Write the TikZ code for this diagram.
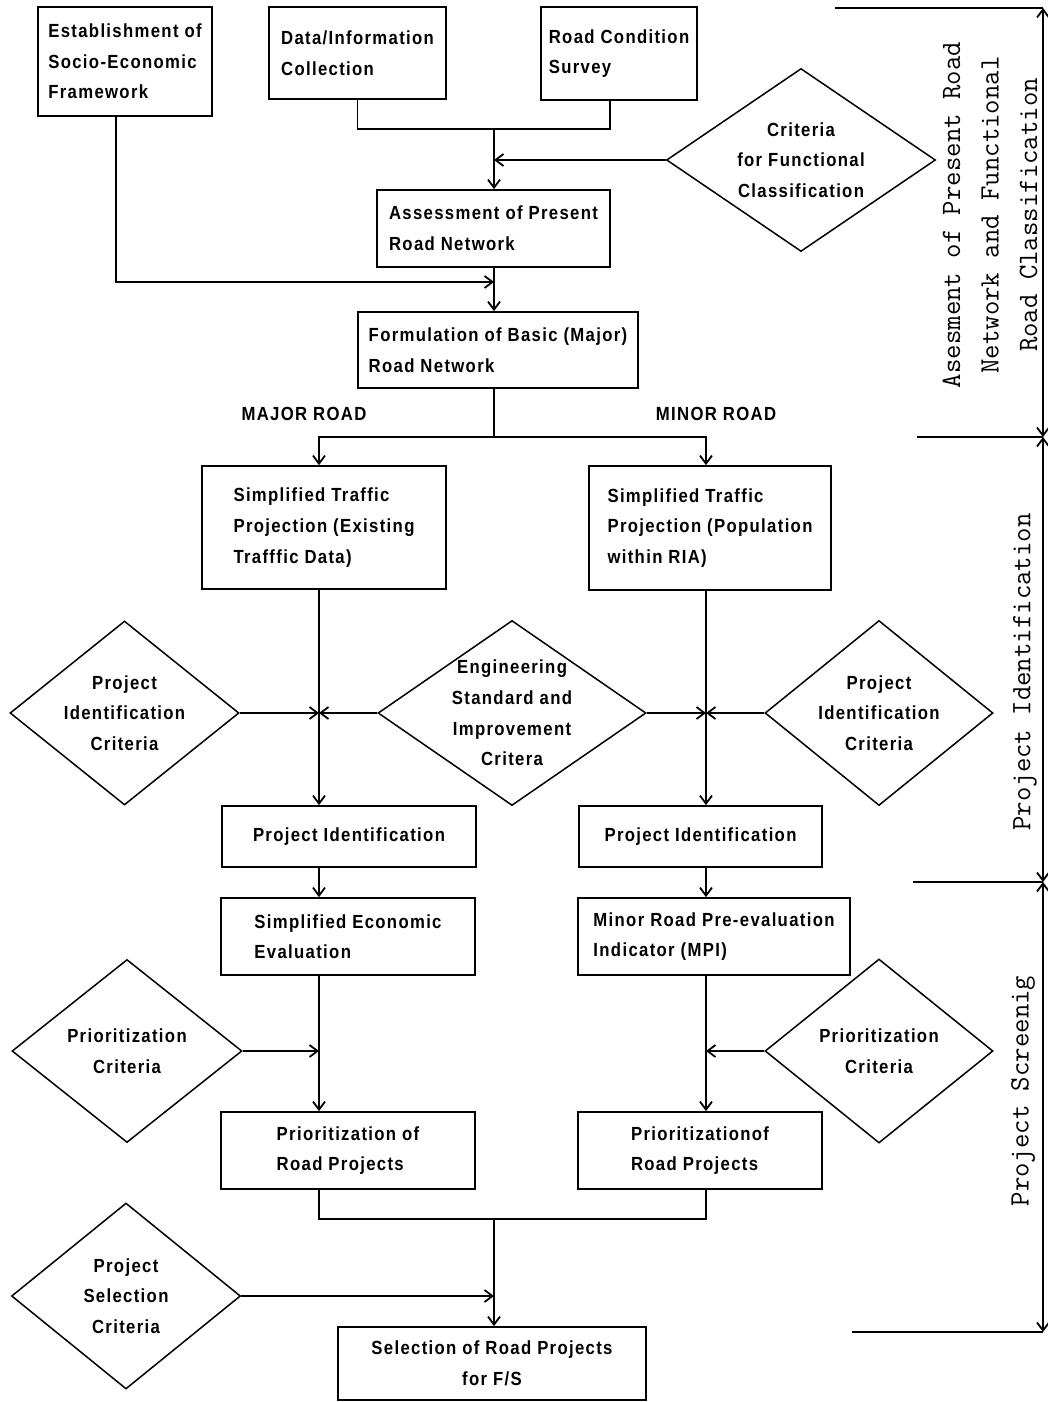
\documentclass[tikz,border=0pt]{standalone}
\usepackage{fontspec}
\usetikzlibrary{shapes.geometric,arrows.meta}
\newfontfamily\boxfont{Liberation Sans}[FakeStretch=0.88,LetterSpace=7]

\begin{document}
\begin{tikzpicture}[x=0.5pt,y=-0.5pt,line width=0.9pt,
  font=\boxfont\bfseries\fontsize{9.5}{15.3}\selectfont,
  >={Straight Barb[length=4pt,width=6pt]},
  process/.style={draw,rectangle,inner sep=0pt,align=left},
  cprocess/.style={process,align=center},
  decision/.style={draw,diamond,inner sep=0pt,line width=0.75pt},
  dtext/.style={align=center},
  phase/.style={rotate=90,align=center,font=\ttfamily\fontsize{14}{19.25}\selectfont}]
\useasboundingbox (0,0) rectangle (1048,1402);

\node[process,minimum width=87pt,minimum height=54.5pt] (soc) at (125,61.5) {Establishment of\\Socio-Economic\\Framework};
\node[process,minimum width=88.5pt,minimum height=46pt] (data) at (357.5,53) {Data/Information\\Collection};
\node[process,minimum width=78pt,minimum height=46.5pt] (cond) at (619,53.5) {Road Condition\\Survey};
\node[decision,minimum width=134.5pt,minimum height=91.5pt,
  label={[dtext]center:Criteria\\for Functional\\Classification}] (crit) at (801,160) {};
\node[process,minimum width=116.5pt,minimum height=38.5pt] (assess) at (493.5,228.5) {Assessment of Present\\Road Network};
\node[process,minimum width=140pt,minimum height=38pt] (form) at (498,350) {Formulation of Basic (Major)\\Road Network};

\node (major) at (304,414) {MAJOR ROAD};
\node (minor) at (716,414) {MINOR ROAD};

\node[process,minimum width=122pt,minimum height=61.5pt] (traf1) at (324,527.5) {Simplified Traffic\\Projection (Existing\\Trafffic Data)};
\node[process,minimum width=121pt,minimum height=62pt] (traf2) at (710,528) {Simplified Traffic\\Projection (Population\\within RIA)};

\node[decision,minimum width=114.5pt,minimum height=92pt,
  label={[dtext]center:Project\\Identification\\Criteria}] (pic1) at (124.5,713) {};
\node[decision,minimum width=134pt,minimum height=92.5pt,
  label={[dtext]center:Engineering\\Standard and\\Improvement\\Critera}] (eng) at (512,713) {};
\node[decision,minimum width=114pt,minimum height=92.5pt,
  label={[dtext]center:Project\\Identification\\Criteria}] (pic2) at (879,713) {};

\node[cprocess,minimum width=127pt,minimum height=30.5pt] (pid1) at (349,836.5) {Project Identification};
\node[cprocess,minimum width=121.5pt,minimum height=30.5pt] (pid2) at (700.5,836.5) {Project Identification};

\node[process,minimum width=127pt,minimum height=38.5pt] (eval1) at (348,936.5) {Simplified Economic\\Evaluation};
\node[process,minimum width=136pt,minimum height=38.5pt] (eval2) at (714,936.5) {Minor Road Pre-evaluation\\Indicator (MPI)};

\node[decision,minimum width=115pt,minimum height=91.5pt,
  label={[dtext]center:Prioritization\\Criteria}] (pc1) at (127,1051) {};
\node[decision,minimum width=114pt,minimum height=92pt,
  label={[dtext]center:Prioritization\\Criteria}] (pc2) at (879,1051) {};

\node[process,minimum width=127pt,minimum height=38.5pt] (prio1) at (348,1150.5) {Prioritization of\\Road Projects};
\node[process,minimum width=122pt,minimum height=38.5pt] (prio2) at (700,1150.5) {Prioritizationof\\Road Projects};

\node[decision,minimum width=114.5pt,minimum height=93pt,
  label={[dtext]center:Project\\Selection\\Criteria}] (psc) at (126,1296) {};
\node[cprocess,minimum width=154pt,minimum height=36.5pt] (sel) at (492,1363.5) {Selection of Road Projects\\for F/S};

\coordinate (jtop) at (494,129);
\coordinate (jsoc) at (494,282);
\coordinate (jsplit) at (494,437);
\coordinate (jmerge) at (494,1219);
\coordinate (colL) at (319,437);
\coordinate (colR) at (706,437);

\draw (data.south) |- (jtop) -| ([xshift=-4.5pt]cond.south);
\draw[->] (jtop) -- (assess.north -| jtop);
\draw[->] (crit.west) -- (crit.west -| jtop);
\draw[->] ([xshift=-4.5pt]soc.south) |- (jsoc);
\draw[->] (assess.south -| jtop) -- (form.north -| jtop);
\draw (form.south -| jtop) -- (jsplit);
\draw[->] (jsplit) -| (traf1.north -| colL);
\draw[->] (jsplit) -| (traf2.north -| colR);
\draw[->] (traf1.south -| colL) -- (pid1.north -| colL);
\draw[->] (traf2.south -| colR) -- (pid2.north -| colR);
\draw[->] (pic1.east) -- (pic1.east -| colL);
\draw[->] (eng.west) -- (eng.west -| colL);
\draw[->] (eng.east) -- (eng.east -| colR);
\draw[->] (pic2.west) -- (pic2.west -| colR);
\draw[->] (pid1.south -| colL) -- (eval1.north -| colL);
\draw[->] (pid2.south -| colR) -- (eval2.north -| colR);
\draw[->] (eval1.south -| colL) -- (prio1.north -| colL);
\draw[->] (eval2.south -| colR) -- (prio2.north -| colR);
\draw[->] (pc1.east) -- (pc1.east -| colL);
\draw[->] (pc2.west) -- (pc2.west -| colR);
\draw (prio1.south -| colL) |- (jmerge) -| (prio2.south -| colR);
\draw[->] (jmerge) -- (sel.north -| jmerge);
\draw[->] (psc.east) -- (psc.east -| jmerge);

\coordinate (b0) at (1043,8);
\coordinate (b1) at (1043,437);
\coordinate (b2) at (1043,882);
\coordinate (b3) at (1043,1332);
\draw (b0) -- ++(-208,0);
\draw (b1) -- ++(-126,0);
\draw (b2) -- ++(-130,0);
\draw (b3) -- ++(-191,0);
\draw[<->] (b0) -- (b1);
\draw[<->] (b1) -- (b2);
\draw[<->] (b2) -- (b3);

\node[phase] (phase1) at (990,215) {Asesment of Present Road\\Network and Functional\\Road Classification};
\node[phase] (phase2) at (1025,672) {Project Identification};
\node[phase] (phase3) at (1023,1091) {Project Screenig};
\end{tikzpicture}
\end{document}
